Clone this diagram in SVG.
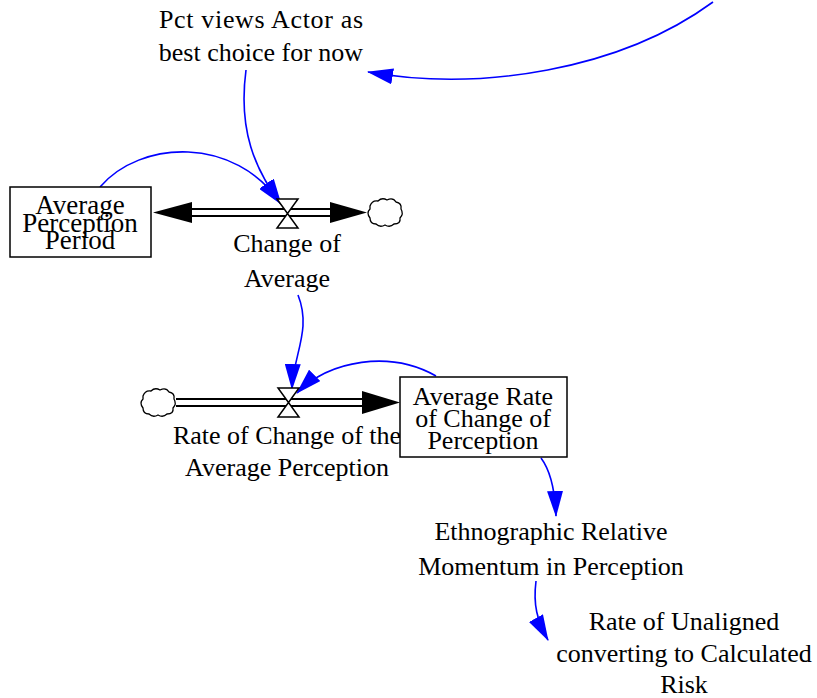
<svg xmlns="http://www.w3.org/2000/svg" width="817" height="698" viewBox="0 0 817 698">
<style>
text{font-family:"Liberation Serif","Times New Roman",serif;font-size:26px;fill:#000;text-anchor:middle}
.bt{font-size:27px}
.box{fill:#fff;stroke:#000;stroke-width:1.5}
.pipe{stroke:#000;stroke-width:2;fill:none}
.head{fill:#000}
.valve{fill:#fff;stroke:#000;stroke-width:1.5}
.cloud{fill:#fff;stroke:#000;stroke-width:1.3}
.link{fill:none;stroke:#0000ff;stroke-width:1.6;marker-end:url(#arr)}
</style>
<defs>
<marker id="arr" viewBox="0 0 26 16" refX="25" refY="8" markerWidth="26" markerHeight="16" markerUnits="userSpaceOnUse" orient="auto">
<path d="M0,0 L26,8 L0,16 Z" fill="#0000ff"/>
</marker>
</defs>
<g id="connectors">
<path class="link" d="M713,2 C620,70 480,92 368,72"/>
<path class="link" d="M246,70 C238,130 255,170 281,204"/>
<path class="link" d="M100,187 C140,140 235,135 281,204"/>
<path class="link" d="M298,295 C312,330 293,355 292,389"/>
<path class="link" d="M436,376 C390,350 330,360 297,393"/>
<path class="link" d="M541,458 C550,470 555,490 556,516"/>
<path class="link" d="M536,581 C533,605 537,620 548,640"/>
</g>
<g id="flow-change-of-average">
<line class="pipe" x1="190" y1="209" x2="332" y2="209"/>
<line class="pipe" x1="190" y1="216" x2="332" y2="216"/>
<polygon class="head" points="153,212.5 192,202 192,223"/>
<polygon class="head" points="367,212.5 330,202 330,223"/>
<path class="valve" d="M277,199 L298,199 L277,228 L298,228 Z"/>
<text x="287" y="252">Change of</text>
<text x="287" y="287">Average</text>
</g>
<g id="cloud-1">
<path class="cloud" d="M370,206 q2,-6 8,-5 q4,-4 9,-1 q6,-3 9,2 q6,1 5,7 q3,5 -1,9 q1,6 -6,6 q-4,4 -9,1 q-5,3 -9,-1 q-6,0 -6,-6 q-4,-5 0,-9 Z"/>
</g>
<g id="flow-rate-of-change">
<line class="pipe" x1="176" y1="399" x2="364" y2="399"/>
<line class="pipe" x1="176" y1="406" x2="364" y2="406"/>
<polygon class="head" points="400,402.5 362,391 362,414"/>
<path class="valve" d="M278,388 L299,388 L278,417 L299,417 Z"/>
<text x="287" y="444">Rate of Change of the</text>
<text x="287" y="476">Average Perception</text>
</g>
<g id="cloud-2">
<path class="cloud" d="M143,396 q2,-6 8,-5 q4,-4 9,-1 q6,-3 9,2 q6,1 5,7 q3,5 -1,9 q1,6 -6,6 q-4,4 -9,1 q-5,3 -9,-1 q-6,0 -6,-6 q-4,-5 0,-9 Z"/>
</g>
<g id="average-perception-period">
<rect class="box" x="10" y="187" width="141" height="70"/>
<text class="bt" x="80" y="214">Average</text>
<text class="bt" x="80" y="232">Perception</text>
<text class="bt" x="80" y="249">Period</text>
</g>
<g id="average-rate-of-change-of-perception">
<rect class="box" x="400" y="377" width="167" height="80"/>
<text x="483" y="405">Average Rate</text>
<text x="483" y="427">of Change of</text>
<text x="483" y="449">Perception</text>
</g>
<g id="pct-views-actor">
<text x="261" y="28" textLength="204" lengthAdjust="spacing">Pct views Actor as</text>
<text x="261" y="61">best choice for now</text>
</g>
<g id="ethnographic-relative-momentum">
<text x="551" y="540">Ethnographic Relative</text>
<text x="551" y="575">Momentum in Perception</text>
</g>
<g id="rate-of-unaligned">
<text x="684" y="630">Rate of Unaligned</text>
<text x="684" y="662">converting to Calculated</text>
<text x="684" y="693">Risk</text>
</g>
</svg>
